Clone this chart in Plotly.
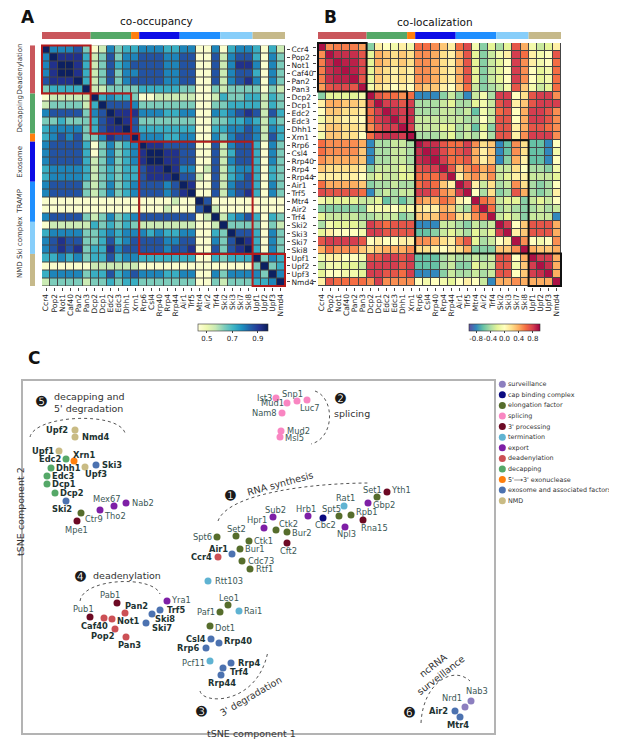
import plotly.graph_objects as go

W, H = 617, 739
FONT = "DejaVu Sans"

# ---------------- heatmap data ----------------
proteins = ["Ccr4", "Pop2", "Not1", "Caf40", "Pan2", "Pan3",
            "Dcp2", "Dcp1", "Edc2", "Edc3", "Dhh1", "Xrn1",
            "Rrp6", "Csl4", "Rrp40", "Rrp4", "Rrp44", "Air1", "Trf5",
            "Mtr4", "Air2", "Trf4", "Ski2", "Ski3", "Ski7", "Ski8",
            "Upf1", "Upf2", "Upf3", "Nmd4"]

group_names = ["Deadenylation", "Decapping", "", "Exosome", "TRAMP", "Ski complex", "NMD"]
group_sizes = [6, 5, 1, 5, 5, 4, 4]
group_colors = ["#c9575c", "#55a868", "#ff7f0e", "#0c0ce6", "#1f8fff", "#87cefa", "#c6b98a"]
cluster_sizes = [6, 5, 1, 14, 4]

cooccupancy = [
    [.97,.79,.79,.79,.86,.64,.45,.56,.79,.64,.72,.72,.79,.79,.79,.72,.72,.79,.79,.45,.45,.79,.45,.72,.79,.79,.72,.45,.72,.56],
    [.79,.97,.92,.92,.92,.72,.56,.64,.86,.64,.79,.79,.86,.86,.86,.79,.79,.86,.86,.45,.45,.86,.56,.79,.86,.86,.72,.45,.79,.64],
    [.79,.92,.97,.97,.92,.72,.56,.64,.86,.72,.79,.86,.86,.86,.86,.79,.79,.86,.86,.45,.45,.86,.56,.79,.92,.92,.79,.45,.79,.64],
    [.79,.92,.97,.97,.92,.72,.56,.64,.86,.64,.79,.79,.86,.86,.86,.79,.79,.86,.86,.45,.45,.86,.56,.79,.86,.86,.72,.45,.79,.64],
    [.86,.92,.92,.92,.97,.72,.56,.64,.86,.64,.79,.86,.86,.86,.86,.79,.79,.86,.86,.45,.45,.86,.56,.79,.86,.92,.79,.45,.79,.64],
    [.64,.72,.72,.72,.72,.97,.56,.56,.64,.64,.64,.64,.72,.72,.72,.72,.72,.64,.64,.45,.45,.64,.56,.64,.64,.64,.64,.45,.64,.56],
    [.45,.56,.56,.56,.56,.56,.97,.72,.79,.72,.72,.64,.45,.45,.56,.56,.56,.56,.56,.45,.45,.56,.72,.64,.64,.72,.72,.56,.72,.64],
    [.56,.64,.64,.64,.64,.56,.72,.97,.86,.86,.86,.79,.64,.64,.64,.64,.64,.64,.64,.45,.45,.64,.64,.72,.72,.72,.72,.56,.72,.64],
    [.79,.86,.86,.86,.86,.64,.79,.86,.97,.92,.92,.92,.79,.79,.79,.72,.72,.79,.79,.45,.45,.79,.72,.79,.86,.92,.86,.56,.86,.72],
    [.64,.64,.72,.64,.64,.64,.72,.86,.92,.97,.92,.86,.64,.64,.64,.64,.64,.64,.64,.45,.45,.64,.64,.72,.72,.79,.72,.56,.72,.64],
    [.72,.79,.79,.79,.79,.64,.72,.86,.92,.92,.97,.86,.72,.72,.72,.72,.72,.72,.72,.45,.45,.72,.72,.79,.79,.86,.79,.56,.79,.72],
    [.72,.79,.86,.79,.86,.64,.64,.79,.92,.86,.86,.97,.79,.79,.79,.72,.72,.79,.79,.45,.45,.79,.64,.79,.86,.86,.79,.56,.86,.72],
    [.79,.86,.86,.86,.86,.72,.45,.64,.79,.64,.72,.79,.97,.92,.92,.86,.86,.86,.86,.45,.45,.86,.56,.79,.86,.86,.72,.45,.79,.64],
    [.79,.86,.86,.86,.86,.72,.45,.64,.79,.64,.72,.79,.92,.97,.97,.92,.92,.86,.86,.45,.45,.86,.56,.72,.86,.86,.72,.45,.79,.64],
    [.79,.86,.86,.86,.86,.72,.56,.64,.79,.64,.72,.79,.92,.97,.97,.92,.92,.86,.86,.45,.45,.86,.56,.79,.86,.86,.72,.45,.79,.64],
    [.72,.79,.79,.79,.79,.72,.56,.64,.72,.64,.72,.72,.86,.92,.92,.97,.92,.79,.79,.45,.56,.86,.56,.72,.79,.79,.72,.45,.72,.64],
    [.72,.79,.79,.79,.79,.72,.56,.64,.72,.64,.72,.72,.86,.92,.92,.92,.97,.86,.86,.56,.45,.86,.56,.72,.79,.86,.72,.45,.72,.64],
    [.79,.86,.86,.86,.86,.64,.56,.64,.79,.64,.72,.79,.86,.86,.86,.79,.86,.97,.92,.45,.45,.86,.56,.79,.86,.86,.72,.45,.79,.64],
    [.79,.86,.86,.86,.86,.64,.56,.64,.79,.64,.72,.79,.86,.86,.86,.79,.86,.92,.97,.45,.45,.86,.56,.79,.86,.92,.72,.45,.79,.64],
    [.45,.45,.45,.45,.45,.45,.45,.45,.45,.45,.45,.45,.45,.45,.45,.45,.56,.45,.45,.97,.86,.45,.45,.45,.45,.45,.45,.45,.45,.45],
    [.45,.45,.45,.45,.45,.45,.45,.45,.45,.45,.45,.45,.45,.45,.45,.56,.45,.45,.45,.86,.97,.56,.45,.45,.45,.45,.45,.45,.45,.45],
    [.79,.86,.86,.86,.86,.64,.56,.64,.79,.64,.72,.79,.86,.86,.86,.86,.86,.86,.86,.45,.56,.97,.56,.72,.79,.86,.72,.45,.72,.64],
    [.45,.56,.56,.56,.56,.56,.72,.64,.72,.64,.72,.64,.56,.56,.56,.56,.56,.56,.56,.45,.45,.56,.97,.64,.64,.64,.64,.45,.64,.56],
    [.72,.79,.79,.79,.79,.64,.64,.72,.79,.72,.79,.79,.79,.72,.79,.72,.72,.79,.79,.45,.45,.72,.64,.97,.86,.86,.72,.45,.79,.64],
    [.79,.86,.92,.86,.86,.64,.64,.72,.86,.72,.79,.86,.86,.86,.86,.79,.79,.86,.86,.45,.45,.79,.64,.86,.97,.92,.72,.45,.79,.64],
    [.79,.86,.92,.86,.92,.64,.72,.72,.92,.79,.86,.86,.86,.86,.86,.79,.86,.86,.92,.45,.45,.86,.64,.86,.92,.97,.72,.45,.79,.64],
    [.72,.72,.79,.72,.79,.64,.72,.72,.86,.72,.79,.79,.72,.72,.72,.72,.72,.72,.72,.45,.45,.72,.64,.72,.72,.72,.97,.64,.79,.72],
    [.45,.45,.45,.45,.45,.45,.56,.56,.56,.56,.56,.56,.45,.45,.45,.45,.45,.45,.45,.45,.45,.45,.45,.45,.45,.45,.64,.97,.64,.72],
    [.72,.79,.79,.79,.79,.64,.72,.72,.86,.72,.79,.86,.79,.79,.79,.72,.72,.79,.79,.45,.45,.79,.64,.79,.79,.79,.79,.64,.97,.79],
    [.56,.64,.64,.64,.64,.56,.64,.64,.72,.64,.72,.72,.64,.64,.64,.64,.64,.64,.64,.45,.45,.64,.56,.64,.64,.64,.72,.72,.79,.97],
]

colocalization = [
    [.95,.5,.55,.55,.55,.45,-.5,.1,0,-.1,.1,-.1,.6,.6,.5,.3,.1,.6,.75,-.1,-.5,-.2,-.4,-.2,.7,.4,-.1,-.3,-.2,.1],
    [.5,.95,.85,.85,.85,.7,-.2,.4,.3,.2,.3,.2,.5,.5,.4,.2,.1,.4,.7,-.2,-.5,-.3,-.1,.1,.8,.6,.1,-.1,0,.7],
    [.55,.85,.95,.9,.9,.75,-.2,.4,.3,.2,.3,.2,.5,.5,.4,.2,.1,.4,.7,-.2,-.5,-.3,-.2,0,.8,.5,.1,-.1,0,.6],
    [.55,.85,.9,.95,.9,.75,-.2,.3,.2,.1,.2,.1,.5,.5,.4,.2,.1,.4,.7,-.2,-.5,-.3,-.2,0,.8,.5,0,-.2,-.1,.6],
    [.55,.85,.9,.9,.95,.7,-.2,.3,.2,.1,.2,.1,.5,.5,.4,.2,.1,.4,.7,-.2,-.5,-.3,-.2,0,.8,.5,0,-.2,-.1,.6],
    [.45,.7,.75,.75,.7,.95,-.1,.2,.1,0,.1,0,.4,.3,.3,.1,0,.3,.6,-.3,-.5,-.4,-.3,-.1,.7,.3,-.1,-.3,-.2,.6],
    [-.5,-.2,-.2,-.2,-.2,-.1,.95,.7,.6,.6,.5,.6,-.8,-.8,-.8,-.5,-.3,-.5,-.8,-.3,-.1,-.4,.8,.8,0,.2,.7,.8,.8,.5],
    [.1,.4,.4,.3,.3,.2,.7,.95,.8,.8,.7,.8,-.4,-.4,-.4,-.3,-.2,-.4,-.4,-.2,-.1,-.3,.7,.8,.1,.3,.7,.8,.8,.8],
    [0,.3,.3,.2,.2,.1,.6,.8,.95,.85,.8,.85,-.4,-.4,-.4,-.3,-.3,-.4,-.3,-.6,-.1,-.3,.6,.7,0,.4,.8,.8,.7,.5],
    [-.1,.2,.2,.1,.1,0,.6,.8,.85,.95,.8,.85,-.3,-.3,-.3,-.3,-.3,-.3,-.4,-.4,0,-.3,.7,.7,0,.4,.8,.8,.7,.5],
    [.1,.3,.3,.2,.2,.1,.5,.7,.8,.8,.95,.8,-.3,-.3,-.3,-.2,-.2,-.4,-.3,-.6,-.2,-.5,.7,.7,.1,.4,.7,.7,.6,.5],
    [-.1,.3,.3,.2,.2,0,.6,.8,.85,.85,.8,.95,-.4,-.4,-.4,-.3,-.2,-.4,-.3,-.4,-.1,-.4,.7,.7,.1,.5,.8,.8,.8,.5],
    [.6,.5,.5,.5,.5,.4,-.8,-.4,-.4,-.3,-.3,-.4,.95,.85,.85,.7,.6,.6,.8,.5,.2,.3,-.8,-.6,.5,.2,-.6,-.6,-.8,0],
    [.6,.5,.5,.5,.5,.3,-.8,-.4,-.4,-.3,-.3,-.4,.85,.95,.9,.75,.6,.7,.8,.4,.1,.3,-.8,-.6,.5,.2,-.6,-.6,-.8,-.1],
    [.5,.4,.4,.4,.4,.3,-.8,-.4,-.4,-.3,-.3,-.4,.85,.9,.95,.8,.6,.6,.7,.4,.1,.3,-.8,-.5,.4,.1,-.6,-.6,-.8,0],
    [.3,.2,.2,.2,.2,.1,-.5,-.3,-.3,-.3,-.2,-.3,.7,.75,.8,.95,.7,.3,.5,.6,.4,.5,-.3,-.3,.2,0,-.4,-.4,-.5,-.1],
    [.1,.1,.1,.1,.1,0,-.3,-.2,-.3,-.3,-.2,-.2,.6,.6,.6,.7,.95,.1,.4,.5,.3,.5,-.3,-.2,.1,.1,-.3,-.3,-.3,-.2],
    [.6,.4,.4,.4,.4,.3,-.5,-.4,-.4,-.3,-.4,-.4,.6,.7,.6,.3,.1,.95,.8,.1,-.3,.2,-.4,-.3,.5,.2,-.4,-.5,-.4,0],
    [.75,.7,.7,.7,.7,.6,-.8,-.4,-.3,-.4,-.3,-.3,.8,.8,.7,.5,.4,.8,.95,0,-.4,.2,-.5,-.4,.7,.4,-.4,-.5,-.4,.1],
    [-.1,-.2,-.2,-.2,-.2,-.3,-.3,-.2,-.6,-.4,-.6,-.4,.5,.4,.4,.6,.5,.1,0,.95,.6,.5,-.3,-.2,-.2,-.5,-.3,-.2,-.3,0],
    [-.5,-.5,-.5,-.5,-.5,-.5,-.1,-.1,-.1,0,-.2,-.1,.2,.1,.1,.4,.3,-.3,-.4,.6,.95,.6,-.4,-.3,-.4,-.5,-.4,-.3,-.4,-.3],
    [-.2,-.3,-.3,-.3,-.3,-.4,-.4,-.3,-.3,-.3,-.5,-.4,.3,.3,.3,.5,.5,.2,.2,.5,.6,.95,-.3,-.2,-.3,-.5,-.3,-.3,-.3,-.8],
    [-.4,-.1,-.2,-.2,-.2,-.3,.8,.7,.6,.7,.7,.7,-.8,-.8,-.8,-.3,-.3,-.4,-.5,-.3,-.4,-.3,.95,.8,0,.3,.7,.7,.7,.4],
    [-.2,.1,0,0,0,-.1,.8,.8,.7,.7,.7,.7,-.6,-.6,-.5,-.3,-.2,-.3,-.4,-.2,-.3,-.2,.8,.95,.1,.3,.7,.7,.7,.4],
    [.7,.8,.8,.8,.8,.7,0,.1,0,0,.1,.1,.5,.5,.4,.2,.1,.5,.7,-.2,-.4,-.3,0,.1,.95,.5,0,-.1,0,.5],
    [.4,.6,.5,.5,.5,.3,.2,.3,.4,.4,.4,.5,.2,.2,.1,0,.1,.2,.4,-.5,-.5,-.5,.3,.3,.5,.95,.4,.3,.3,.4],
    [-.1,.1,.1,0,0,-.1,.7,.7,.8,.8,.7,.8,-.6,-.6,-.6,-.4,-.3,-.4,-.4,-.3,-.4,-.3,.7,.7,0,.4,.95,.8,.8,.4],
    [-.3,-.1,-.1,-.2,-.2,-.3,.8,.8,.8,.8,.7,.8,-.6,-.6,-.6,-.4,-.3,-.5,-.5,-.2,-.3,-.3,.7,.7,-.1,.3,.8,.95,.85,.4],
    [-.2,0,0,-.1,-.1,-.2,.8,.8,.7,.7,.6,.8,-.8,-.8,-.8,-.5,-.3,-.4,-.4,-.3,-.4,-.3,.7,.7,0,.3,.8,.85,.95,.4],
    [.1,.7,.6,.6,.6,.6,.5,.8,.5,.5,.5,.5,0,-.1,0,-.1,-.2,0,.1,0,-.3,-.8,.4,.4,.5,.4,.4,.4,.4,.95],
]

# ---------------- tSNE data ----------------
tsne_names = ["Upf2", "Nmd4", "Upf1", "Xrn1", "Edc2", "Dhh1", "Upf3", "Ski3", "Edc3", "Dcp1", "Dcp2", "Ski2",
              "Ctr9", "Mpe1", "Tho2", "Mex67", "Nab2",
              "Ist3", "Mud1", "Snp1", "Luc7", "Nam8", "Mud2", "Msl5",
              "Set1", "Yth1", "Rat1", "Gbp2", "Rpb1", "Spt5", "Cbc2", "Hrb1", "Rna15", "Npl3", "Sub2", "Hpr1",
              "Ctk2", "Bur2", "Cft2", "Set2", "Spt6", "Ctk1", "Bur1", "Air1", "Ccr4", "Cdc73", "Rtf1", "Rtt103",
              "Leo1", "Paf1", "Rai1", "Dot1",
              "Csl4", "Rrp40", "Rrp6", "Pcf11", "Rrp4", "Trf4", "Rrp44",
              "Yra1", "Pab1", "Pan2", "Trf5", "Ski8", "Pub1", "Caf40", "Not1", "Ski7", "Pop2", "Pan3",
              "Nab3", "Nrd1", "Air2", "Mtr4"]
tsne_x = [52, 52, 36, 51, 43, 28, 62, 73, 24, 24, 32, 43,
          58, 54, 77, 91, 103,
          253, 264, 274, 284, 259, 258, 257,
          354, 364, 321, 345, 328, 316, 300, 285, 340, 322, 250, 241,
          253, 264, 264, 213, 194, 226, 217, 209, 195, 219, 227, 185,
          205, 197, 216, 187,
          188, 196, 183, 187, 208, 200, 198,
          144, 94, 102, 137, 129, 67, 81, 89, 123, 92, 103,
          448, 442, 432, 437]
tsne_y = [303, 296, 282, 272, 274, 265, 266, 268, 257, 249, 240, 232,
          220, 212, 223, 227, 230,
          335, 330, 332, 333, 320, 302, 296,
          236, 241, 227, 230, 218, 217, 215, 217, 213, 206, 216, 205,
          203, 201, 190, 197, 196, 192, 184, 179, 176, 172, 164, 152,
          128, 121, 122, 107,
          94, 90, 85, 72, 70, 65, 58,
          132, 130, 120, 123, 119, 116, 115, 114, 110, 104, 96,
          32, 26, 22, 16]
tsne_class = ["NMD", "NMD", "NMD", "exo53", "decapping", "decapping", "NMD", "exosome", "decapping", "decapping",
              "decapping", "exosome",
              "elongation", "proc3", "export", "export", "export",
              "splicing", "splicing", "splicing", "splicing", "splicing", "splicing", "splicing",
              "elongation", "proc3", "termination", "export", "elongation", "elongation", "cap", "export", "proc3",
              "export", "export", "export",
              "elongation", "elongation", "proc3", "elongation", "elongation", "elongation", "elongation", "exosome",
              "deadenylation", "elongation", "elongation", "termination",
              "elongation", "elongation", "termination", "elongation",
              "exosome", "exosome", "exosome", "termination", "exosome", "exosome", "exosome",
              "export", "proc3", "deadenylation", "exosome", "exosome", "proc3", "deadenylation", "deadenylation",
              "exosome", "deadenylation", "deadenylation",
              "surveillance", "surveillance", "exosome", "exosome"]

# label placement (pixel offsets of each label's centre from its dot) - style, not data
label_dx = [-18, 20.5, -16, 9.5, -16, 17.5, 11, 16, 16.3, 17, 17, -4,
            12.8, -1, 15, -7, 16.5,
            -12, -15, -5, 2.7, -18, 17, 14.7,
            -4.6, 13.7, 1.7, 16.3, 16.4, -8, 2, -1.8, 11, 1.5, 2.5, -7.5,
            12.7, 14.8, 1.5, 0.4, -14.7, 14.8, 14.7, -14, -16.2, 19.3, 14.3, 21,
            0.5, -14, 14.4, 15,
            -15.4, 19.3, -17.8, -16.4, 17.7, 15.5, 1,
            14, -7.4, 11.3, 15.5, 13.3, -6.8, -9.7, 16.4, 16.4, -12.3, 3.3,
            5.6, -12.8, -17, -2]
label_dy = [0, 0, 0, -6.4, 0, 0, 7, 0, 0, 0, 0, 8,
            6.4, 9, 5.7, -7, 0,
            0, 0, -6.6, 8.3, 0, 0, 1,
            -7, -2, -8, 2, -2.7, -7, 7.3, -6.6, 7.7, 7.4, -6.7, -7.7,
            -6, 1.4, 8.3, -7.3, 0, 0, 0, -5.3, 0, 0, 0, 0,
            -7.3, 0, 0, 2,
            0, -2, 0, 1.7, 0, 4.4, 7.7,
            -1, -8, -6.7, 0, 5, -8, 8.4, 2, 5, 7.4, 8,
            -9.7, -9, 0, 7.7]

legend_keys = ["surveillance", "cap", "elongation", "splicing", "proc3", "termination", "export",
               "deadenylation", "decapping", "exo53", "exosome", "NMD"]
legend_labels = ["surveillance", "cap binding complex", "elongation factor", "splicing", "3' processing",
                 "termination", "export", "deadenylation", "decapping", "5'\u27f63' exonuclease",
                 "exosome and associated factors", "NMD"]
class_colors = {"surveillance": "#8c7fbf", "cap": "#0b0b80", "elongation": "#566d2c", "splicing": "#f986c2",
                "proc3": "#6d0a24", "termination": "#5fb3d2", "export": "#7e1fa6", "deadenylation": "#cc5055",
                "decapping": "#55a868", "exo53": "#ff7f0e", "exosome": "#4c72b0", "NMD": "#c9bb84"}

cluster_titles = [("\u278e", 18, 332, "decapping and<br>5' degradation", 29, 331, 0, "left"),
                  ("\u278b", 317, 335, "splicing", 309, 320, 0, "left"),
                  ("\u278a", 207, 238, "RNA synthesis", 257, 250, -15, "center"),
                  ("\u278d", 57, 157, "deadenylation", 104, 158, 0, "center"),
                  ("\u278c", 178, 22, "3' degradation", 227, 37, -30, "center"),
                  ("\u278f", 386, 21, "ncRNA<br>surveillance", 413, 63, -38, "center")]
cluster_arcs = ["M 7,296 C 12,318 95,322 102,300",
                "M 292,342 C 312,335 312,295 288,289",
                "M 195,212 C 205,240 290,250 347,250",
                "M 57,132 C 60,155 130,158 137,139",
                "M 177,42 C 180,28 235,28 245,82",
                "M 398,10 C 400,50 430,68 447,52"]


def fx(p):
    return p / W


def fy(p):
    return 1 - p / H


YLGNBU = [[0, "#ffffd9"], [0.125, "#edf8b1"], [0.25, "#c7e9b4"], [0.375, "#7fcdbb"], [0.5, "#41b6c4"],
          [0.625, "#1d91c0"], [0.75, "#225ea8"], [0.875, "#253494"], [1, "#081d58"]]
SPECTRAL_R = [[0, "#5e4fa2"], [0.1, "#3288bd"], [0.2, "#66c2a5"], [0.3, "#abdda4"], [0.4, "#e6f598"],
              [0.5, "#ffffbf"], [0.6, "#fee08b"], [0.7, "#fdae61"], [0.8, "#f46d43"], [0.9, "#d53e4f"],
              [1, "#9e0142"]]

cb_common = dict(orientation="h", xanchor="left", y=fy(316), yanchor="top", thickness=7, xpad=0, ypad=0,
                 tickangle=0, tickfont=dict(size=7, family=FONT, color="#222"), outlinewidth=0.6,
                 outlinecolor="#333", ticks="outside", ticklen=2)

fig = go.Figure()

fig.add_trace(go.Heatmap(
    z=cooccupancy, x=proteins, y=proteins, xaxis="x", yaxis="y",
    colorscale=YLGNBU, zmin=0.43, zmax=0.98, xgap=1, ygap=1, hoverinfo="skip",
    colorbar=dict(x=fx(190), len=70 / W, tickvals=[0.5, 0.7, 0.9], **cb_common)))

fig.add_trace(go.Heatmap(
    z=colocalization, x=proteins, y=proteins, xaxis="x2", yaxis="y2",
    colorscale=SPECTRAL_R, zmin=-1, zmax=1, xgap=1, ygap=1, hoverinfo="skip",
    colorbar=dict(x=fx(461), len=71 / W, tickvals=[-0.8, -0.4, 0.0, 0.4, 0.8],
                  ticktext=["-0.8", "-0.4", "0.0", "0.4", "0.8"], **cb_common)))

fig.add_trace(go.Scatter(
    x=tsne_x, y=tsne_y, xaxis="x3", yaxis="y3", mode="markers", cliponaxis=False, hoverinfo="skip",
    marker=dict(size=7, color=[class_colors[c] for c in tsne_class], line=dict(width=0))))

legend_pos = list(range(len(legend_keys)))
fig.add_trace(go.Scatter(
    x=[0.049] * len(legend_keys), y=legend_pos, xaxis="x4", yaxis="y4",
    mode="markers", cliponaxis=False, hoverinfo="skip",
    marker=dict(size=7, color=[class_colors[k] for k in legend_keys])))

hm_common = dict(showgrid=False, zeroline=False, showline=False, ticks="outside", ticklen=3,
                 tickwidth=0.8, tickcolor="#444", tickmode="linear", tick0=0, dtick=1,
                 tickfont=dict(size=7.5, family=FONT, color="#222"))
fig.update_layout(
    width=W, height=H, margin=dict(l=0, r=0, t=0, b=0, pad=0), paper_bgcolor="white",
    plot_bgcolor="white", showlegend=False, font=dict(family=FONT),
    xaxis=dict(domain=[fx(33), fx(278)], anchor="y", tickangle=-90, **hm_common),
    yaxis=dict(domain=[fy(279), fy(34)], anchor="x", autorange="reversed", side="right", **hm_common),
    xaxis2=dict(domain=[fx(309), fx(554)], anchor="y2", tickangle=-90, **hm_common),
    yaxis2=dict(domain=[fy(279), fy(34)], anchor="x2", autorange="reversed", showticklabels=False,
                **hm_common),
    xaxis3=dict(domain=[fx(15), fx(486)], anchor="y3", range=[0, 471], showgrid=False, zeroline=False,
                showticklabels=False, ticks="", showline=True, mirror=True, linecolor="#b3b3b3",
                linewidth=1.5),
    yaxis3=dict(domain=[fy(725), fy(373)], anchor="x3", range=[0, 352], showgrid=False, zeroline=False,
                showticklabels=False, ticks="", showline=True, mirror=True, linecolor="#b3b3b3",
                linewidth=1.5),
    xaxis4=dict(domain=[fx(488), 1], anchor="y4", range=[0, 1], visible=False),
    yaxis4=dict(domain=[fy(498), fy(371)], anchor="x4", range=[len(legend_keys) - 0.5, -0.5],
                visible=False),
)

shapes = []
annotations = []
n = len(proteins)
for xr, yr, col in (("x", "y", "#b31b1b"), ("x2", "y2", "#111111")):
    shapes.append(dict(type="rect", xref=xr, yref=yr, x0=-0.5, x1=n - 0.5, y0=-0.5, y1=n - 0.5,
                       fillcolor="#454545", line=dict(width=0), layer="below"))
    start = 0
    for size in cluster_sizes:
        shapes.append(dict(type="rect", xref=xr, yref=yr, x0=start - 0.5, x1=start + size - 0.5,
                           y0=start - 0.5, y1=start + size - 0.5, line=dict(color=col, width=2)))
        start += size
    start = 0
    for size, gc in zip(group_sizes, group_colors):
        shapes.append(dict(type="rect", xref=xr, yref="paper", x0=start - 0.5, x1=start + size - 0.5,
                           y0=fy(31), y1=fy(24), fillcolor=gc, line=dict(width=0)))
        start += size

start = 0
for size, gc, gname in zip(group_sizes, group_colors, group_names):
    shapes.append(dict(type="rect", xref="paper", yref="y", x0=fx(22), x1=fx(27), y0=start - 0.5,
                       y1=start + size - 0.5, fillcolor=gc, line=dict(width=0)))
    if gname:
        annotations.append(dict(text=gname, xref="paper", yref="y", x=fx(12), y=start + (size - 1) / 2,
                                textangle=-90, showarrow=False, xanchor="center", yanchor="middle",
                                font=dict(size=7, family=FONT, color="#333")))
    start += size

# point labels
for name, x, y, dx, dy in zip(tsne_names, tsne_x, tsne_y, label_dx, label_dy):
    bold = name in proteins
    annotations.append(dict(text="<b>%s</b>" % name if bold else name, xref="x3", yref="y3", x=x, y=y,
                            xshift=dx, yshift=-dy, showarrow=False, xanchor="center", yanchor="middle",
                            borderpad=0,
                            font=dict(size=8.3, family=FONT, color="#1d3331" if bold else "#3b5856")))

# legend labels
for pos, lab in zip(legend_pos, legend_labels):
    annotations.append(dict(text=lab, xref="x4", yref="y4", x=0.049, y=pos, xshift=5, showarrow=False,
                            xanchor="left", yanchor="middle", borderpad=0,
                            font=dict(size=6.4, family=FONT, color="#333")))

for path in cluster_arcs:
    shapes.append(dict(type="path", xref="x3", yref="y3", path=path,
                       line=dict(color="#555", width=1, dash="dot")))

for num, nx, ny, txt, tx, ty, ang, anchor in cluster_titles:
    annotations.append(dict(text=num, xref="x3", yref="y3", x=nx, y=ny, showarrow=False,
                            font=dict(size=13, family=FONT, color="#1a1a1a")))
    annotations.append(dict(text=txt, xref="x3", yref="y3", x=tx, y=ty, showarrow=False, textangle=ang,
                            xanchor=anchor, yanchor="middle", align=anchor,
                            font=dict(size=9.5, family=FONT, color="#333")))

for txt, x, y, size, bold in (("A", 20, 9, 17, True), ("B", 322, 9, 17, True), ("C", 26, 350, 17, True),
                              ("co-occupancy", 148, 13, 10.5, False),
                              ("co-localization", 427, 14, 10.5, False)):
    annotations.append(dict(text="<b>%s</b>" % txt if bold else txt, xref="paper", yref="paper",
                            x=fx(x), y=fy(y), showarrow=False, xanchor="center", yanchor="middle",
                            font=dict(size=size, family=FONT, color="#111")))

annotations.append(dict(text="tSNE component 1", xref="paper", yref="paper", x=fx(243), y=fy(733),
                        showarrow=False, font=dict(size=9.5, family=FONT, color="#333")))
annotations.append(dict(text="tSNE component 2", xref="paper", yref="paper", x=fx(5), y=fy(550),
                        textangle=-90, showarrow=False, font=dict(size=9.5, family=FONT, color="#333")))

fig.update_layout(shapes=shapes, annotations=annotations)
fig.write_html("out.html")
